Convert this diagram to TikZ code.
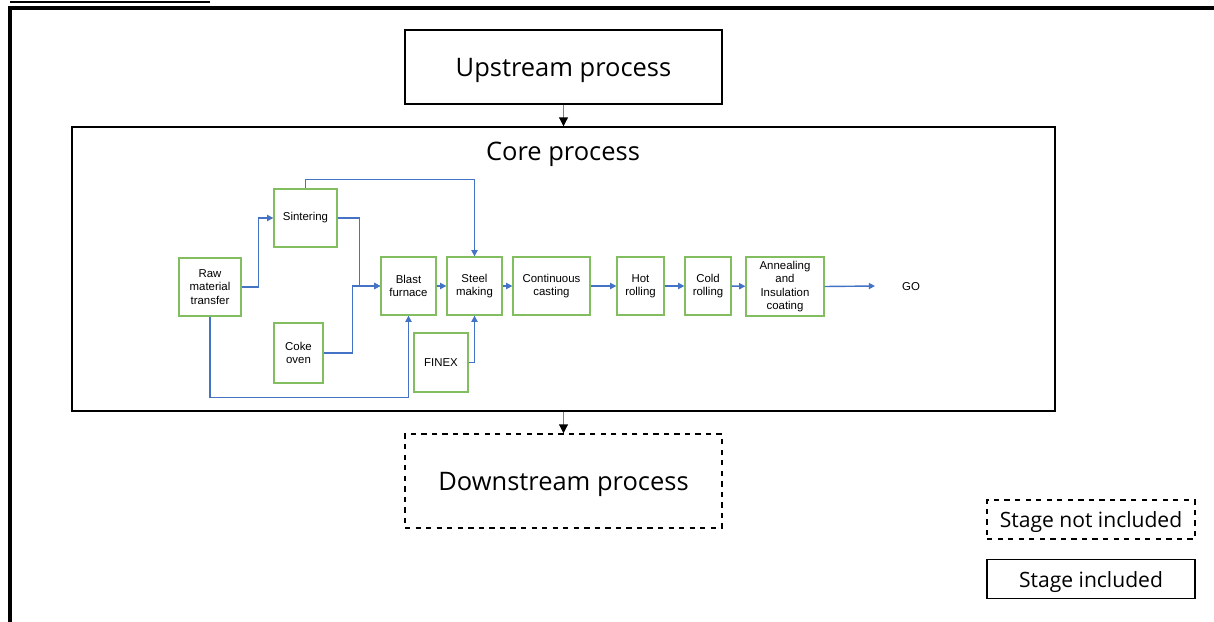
\documentclass[tikz,border=0pt]{standalone}
\usepackage{fontspec}
\setmainfont{Open Sans}
\newfontfamily\arialfont{Liberation Sans}
\usetikzlibrary{arrows.meta}
\usetikzlibrary{positioning}
\usetikzlibrary{calc}

\definecolor{flowblue}{RGB}{68,114,196}
\definecolor{procgreen}{RGB}{130,190,95}

\tikzset{
  stage/.style={draw=black, line width=0.85pt, text depth=0pt, font=\fontsize{14.5}{17}\selectfont},
  legend/.style={draw=black, line width=0.75pt, text depth=0pt, minimum width=4.16cm, minimum height=0.78cm, font=\fontsize{12}{14}\selectfont},
  proc/.style={draw=procgreen, line width=0.75pt, align=center, inner sep=1pt, font=\arialfont\fontsize{6.5}{7.6}\selectfont},
  flow/.style={draw=flowblue, line width=0.8pt, -{Triangle[length=3.5pt,width=3.5pt]}},
  link/.style={draw=gray, line width=0.6pt, -{Triangle[length=5pt,width=5pt,color=black]}}
}

\begin{document}
\begin{tikzpicture}[x=0.02cm,y=-0.02cm]

    \useasboundingbox (0,0) rectangle (1214,622);

    % frame
    \draw[line width=1.5pt] (10,2) -- (210,2);
    \draw[line width=1.8pt] (10,640) -- (10,8) -- (1240,8);

    % stages
    \node [stage, minimum width=6.34cm, minimum height=1.48cm] (upstream) at (563.5,67) {Upstream process};
    \node [stage, minimum width=19.66cm, minimum height=5.68cm] (core) at (563.5,269) {};
    \node [text depth=0pt, font=\fontsize{14.5}{17}\selectfont] (core_title) at (563,151) {Core process};
    \node [stage, dashed, minimum width=6.34cm, minimum height=1.88cm] (downstream) at (563.5,481) {Downstream process};

    \draw[link] (upstream.south) -- (core.north);
    \draw[link] (core.south) -- (downstream.north);

    % processes
    \node [proc, minimum width=1.24cm, minimum height=1.16cm] (raw) at (210,287) {Raw\\material\\transfer};
    \node [proc, minimum width=1.26cm, minimum height=1.16cm] (sinter) at (305.5,218) {Sintering};
    \node [proc, minimum width=0.98cm, minimum height=1.2cm] (coke) at (298.5,353) {Coke\\oven};
    \node [proc, minimum width=1.1cm, minimum height=1.16cm] (blast) at (408.5,286) {Blast\\furnace};
    \node [proc, minimum width=1.1cm, minimum height=1.16cm] (steel) at (474.5,286) {Steel\\making};
    \node [proc, minimum width=1.08cm, minimum height=1.18cm] (finex) at (441,362.5) {FINEX};
    \node [proc, minimum width=1.54cm, minimum height=1.16cm] (casting) at (551.5,286) {Continuous\\casting};
    \node [proc, minimum width=0.94cm, minimum height=1.16cm] (hot) at (640.5,286) {Hot\\rolling};
    \node [proc, minimum width=0.92cm, minimum height=1.16cm] (cold) at (708,286) {Cold\\rolling};
    \node [proc, minimum width=1.56cm, minimum height=1.18cm] (anneal) at (785,286.5) {Annealing\\and\\Insulation\\coating};
    \node [font=\arialfont\fontsize{6.5}{7.6}\selectfont] (go) at (911,287) {GO};
    \coordinate (go_in) at (875,286);

    % flows
    \draw[flow] (raw.east) -- ++(17,0) |- (sinter.west);
    \draw[flow] (sinter.east) -- ++(22,0) |- (blast.west);
    \draw[flow] (coke.east) -- ++(29,0) |- (blast.west);
    \draw[flow] (sinter.north) -- ++(0,-9) -| (steel.north);
    \draw[flow] (raw.south) -- ++(0,81) -| (blast.south);
    \draw[flow] (finex.east) -| (steel.south);
    \draw[flow] (blast) -- (steel);
    \draw[flow] (steel) -- (casting);
    \draw[flow] (casting) -- (hot);
    \draw[flow] (hot) -- (cold);
    \draw[flow] (cold) -- (anneal);
    \draw[flow] (anneal.east) -- (go_in);

    % legend
    \node [legend, dashed] (not_incl) at (1091,519.5) {Stage not included};
    \node [legend] (incl) at (1091,579) {Stage included};

\end{tikzpicture}
\end{document}
